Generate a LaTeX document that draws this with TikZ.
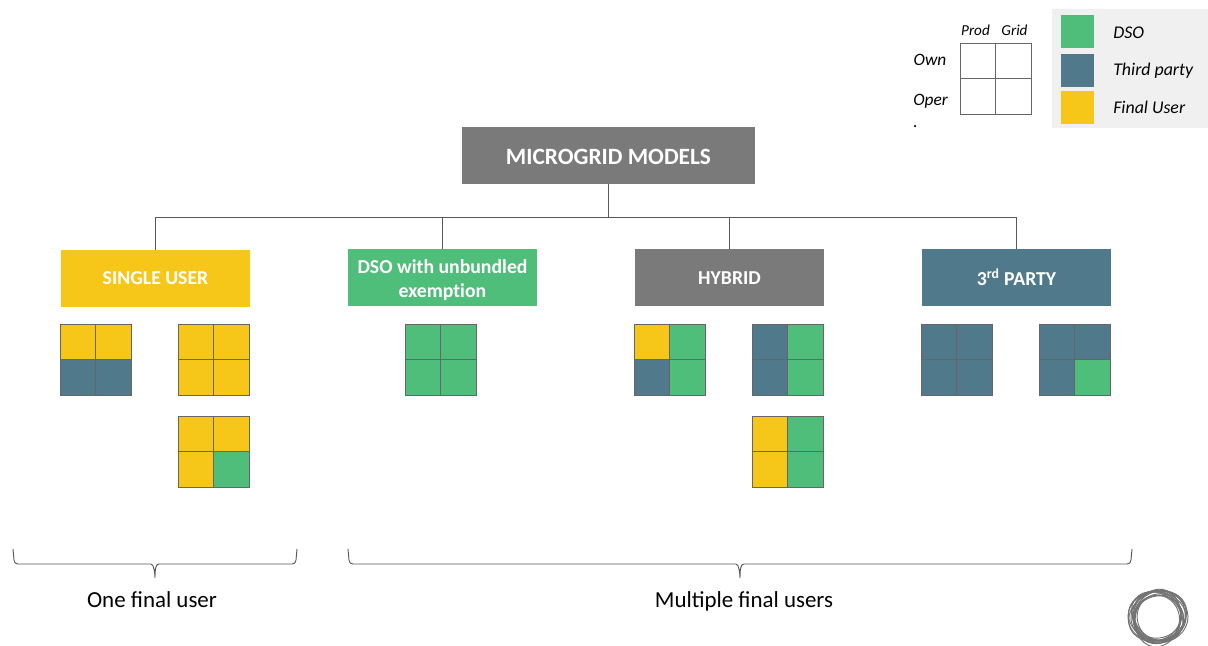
\documentclass[tikz,border=0pt]{standalone}
\usepackage{fontspec}
\setmainfont{Carlito}
\usetikzlibrary{positioning}
\definecolor{dsogreen}{HTML}{50BE7B}
\definecolor{thirdteal}{HTML}{507A8C}
\definecolor{useryellow}{HTML}{F6C719}
\definecolor{modelgrey}{HTML}{7A7A7A}
\definecolor{legendgrey}{HTML}{F0F0F0}
\tikzset{
  modelbox/.style={minimum width=141.75pt,minimum height=42.75pt,inner sep=1pt,align=center,
    text=white,font=\fontsize{14.8}{18}\selectfont\bfseries},
  linkline/.style={draw=black!65,line width=.6pt},
  cell/.style={draw=black!60,line width=.6pt,minimum size=26.9pt,inner sep=0pt,outer sep=0pt},
  keytext/.style={font=\fontsize{13.4}{15}\selectfont\itshape,inner sep=0pt},
  headtext/.style={font=\fontsize{11.4}{12}\selectfont\itshape,inner sep=0pt},
  bracetext/.style={font=\fontsize{17.2}{20}\selectfont,inner sep=0pt},
}
% four cells, own/oper by prod/grid
\newcommand{\quadcells}[7]{%
  \node[cell,fill=#4,anchor=north west] (#1a) at (#2,#3) {};
  \node[cell,fill=#5,right=0pt of #1a] (#1b) {};
  \node[cell,fill=#6,below=0pt of #1a] (#1c) {};
  \node[cell,fill=#7,below=0pt of #1b] (#1d) {};
}
\newcommand{\footbrace}[5]{%
  \coordinate (#1l) at (#2,549);
  \coordinate (#1r) at (#3,549);
  \coordinate (#1t) at (#4,578);
  \draw[linkline,line width=.7pt] (#1l) -- ++(1,11) .. controls +(.5,3.5) and +(-1,0) .. ++(4,4)
    -- (#4-4,564) .. controls +(3,0) and +(0,-4) .. (#1t)
    .. controls +(0,-10) and +(-3,0) .. (#4+4,564)
    -- (#3-5,564) .. controls +(1,0) and +(-.5,3.5) .. ++(4,-4) -- (#1r);
  \node[bracetext,anchor=base] (#1text) at (#5,607) {#1};
}
\begin{document}
\begin{tikzpicture}[x=.75pt,y=-.75pt]
\useasboundingbox (0,0) rectangle (1208,646);
% tree
\node[modelbox,fill=modelgrey,minimum width=219.75pt,font=\fontsize{17.5}{20}\selectfont\bfseries] (root) at (608.5,155.5) {\rule{0pt}{14pt}MICROGRID MODELS};
\node[modelbox,fill=useryellow] (single) at (155.5,278.5) {SINGLE USER};
\node[modelbox,fill=dsogreen] (dso) at (442.5,277.5) {\rule{0pt}{14pt}DSO with unbundled\\exempt\kern0pt ion};
\node[modelbox,fill=modelgrey] (hybrid) at (729.5,277.5) {\rule{0pt}{10.8pt}HYBRID};
\node[modelbox,fill=thirdteal] (party) at (1016.5,277.5) {3\textsuperscript{rd} PARTY};
\coordinate (bus) at (608.5,217);
\draw[linkline] (root.south) -- (bus);
\draw[linkline] (bus) -| (single.north);
\draw[linkline] (bus) -| (dso.north);
\draw[linkline] (bus) -| (hybrid.north);
\draw[linkline] (bus) -| (party.north);
% cells
\quadcells{sa}{60}{324}{useryellow}{useryellow}{thirdteal}{thirdteal}
\quadcells{sb}{178}{324}{useryellow}{useryellow}{useryellow}{useryellow}
\quadcells{sc}{178}{416}{useryellow}{useryellow}{useryellow}{dsogreen}
\quadcells{da}{405}{324}{dsogreen}{dsogreen}{dsogreen}{dsogreen}
\quadcells{ha}{634}{324}{useryellow}{dsogreen}{thirdteal}{dsogreen}
\quadcells{hb}{752}{324}{thirdteal}{dsogreen}{thirdteal}{dsogreen}
\quadcells{hc}{752}{416}{useryellow}{dsogreen}{useryellow}{dsogreen}
\quadcells{pa}{921}{324}{thirdteal}{thirdteal}{thirdteal}{thirdteal}
\quadcells{pb}{1039}{324}{thirdteal}{thirdteal}{thirdteal}{dsogreen}
% key
\quadcells{ka}{960}{43}{white}{white}{white}{white}
\node[headtext,anchor=base] (prod) at (975.5,36) {Prod};
\node[headtext,anchor=base] (grid) at (1014.5,36) {Grid};
\node[keytext,font=\fontsize{13}{15}\selectfont\itshape,anchor=base] (own) at (930,65) {Own};
\node[keytext,font=\fontsize{13}{16.5}\selectfont\itshape,align=left,anchor=north west] (oper) at (913,94) {Oper\\.};
\fill[legendgrey] (1052,9) rectangle (1208,128);
\node[fill=dsogreen,minimum size=24.75pt,inner sep=0pt,anchor=north west] (kdso) at (1061,15) {};
\node[fill=thirdteal,minimum size=24.75pt,inner sep=0pt,below=3.75pt of kdso] (kparty) {};
\node[fill=useryellow,minimum size=24.75pt,inner sep=0pt,below=3pt of kparty] (kuser) {};
\node[keytext,anchor=base west] (tdso) at (1113,38.5) {DSO};
\node[keytext,anchor=base west] (tparty) at (1113,75.5) {Third party};
\node[keytext,anchor=base west] (tuser) at (1113,113.5) {Final User};
% braces
\footbrace{One final user}{13}{297}{155}{152}
\footbrace{Multiple final users}{348}{1132}{740}{744}
% logo
\foreach \ang/\rx/\ry/\dx/\dy in {0/30/26/0/0,25/30/24/0/1,50/27/25/1/-1,80/29/23/-1/0,110/26/24/1/1,140/28/22/1/0,170/25/23/-1/1,200/28/25/-1/-1,230/24/22/0/0,260/27/24/0/-1,290/23/21/1/0,320/26/23/0/1,350/29/24/-1/1,15/24/21/0/0}
  \draw[black!55,line width=.7pt,rotate around={\ang:(1158,617)}] ([xshift=\dx*.75pt,yshift=\dy*.75pt]1158,617) ellipse [x radius=\rx,y radius=\ry];
\end{tikzpicture}
\end{document}
